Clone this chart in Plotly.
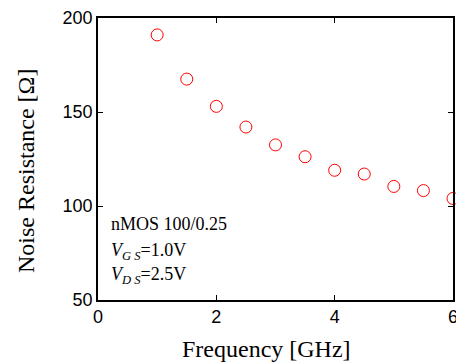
import plotly.graph_objects as go

freq_ghz = [1.0, 1.5, 2.0, 2.5, 3.0, 3.5, 4.0, 4.5, 5.0, 5.5, 6.0]
noise_res = [191.0, 167.5, 153.0, 142.0, 132.5, 126.2, 119.0, 117.0, 110.4, 108.2, 104.0]
x_ticks = [0, 2, 4, 6]
y_ticks = [50, 100, 150, 200]

fig = go.Figure()
fig.add_trace(go.Scatter(
    x=freq_ghz, y=noise_res, mode="markers",
    marker=dict(symbol="circle-open", size=12, color="#ff0000", line=dict(width=1, color="#ff0000")),
    showlegend=False, cliponaxis=False,
))

axis_common = dict(
    showline=True, linecolor="black", linewidth=1.5, mirror="ticks",
    ticks="inside", ticklen=5, tickcolor="black", showgrid=False, zeroline=False,
    tickfont=dict(family="Liberation Sans", size=18, color="black"),
)
fig.update_xaxes(range=[0, 6], tickvals=x_ticks, **axis_common)
fig.update_yaxes(range=[50, 200], tickvals=y_ticks, **axis_common)

title_font = dict(family="Liberation Serif", size=24, color="black")
# x-axis title
fig.add_annotation(text="Frequency [GHz]", xref="paper", yref="paper",
                   x=(269 - 98) / 360, y=-(349 - 300) / 282, xanchor="center", yanchor="middle",
                   showarrow=False, font=title_font)
# y-axis title
fig.add_annotation(text="Noise Resistance [Ω]", xref="paper", yref="paper", textangle=-90,
                   x=(25 - 98) / 360, y=(300 - 171) / 282, xanchor="center", yanchor="middle",
                   showarrow=False, font=title_font)

notes = [
    "nMOS 100/0.25",
    "<i>V</i><sub><i>G S</i></sub>=1.0V",
    "<i>V</i><sub><i>D S</i></sub>=2.5V",
]
note_y = [0.27, 0.171, 0.086]
for t, yy in zip(notes, note_y):
    fig.add_annotation(
        text=t, xref="paper", yref="paper", x=0.03, y=yy,
        xanchor="left", yanchor="middle", showarrow=False,
        font=dict(family="Liberation Serif", size=18, color="black"),
    )

fig.update_layout(
    width=462, height=363,
    margin=dict(l=98, r=4, t=18, b=63),
    paper_bgcolor="white", plot_bgcolor="white",
)

fig.write_html("out.html", post_script="document.body.style.overflow='hidden';document.documentElement.style.overflow='hidden';")
